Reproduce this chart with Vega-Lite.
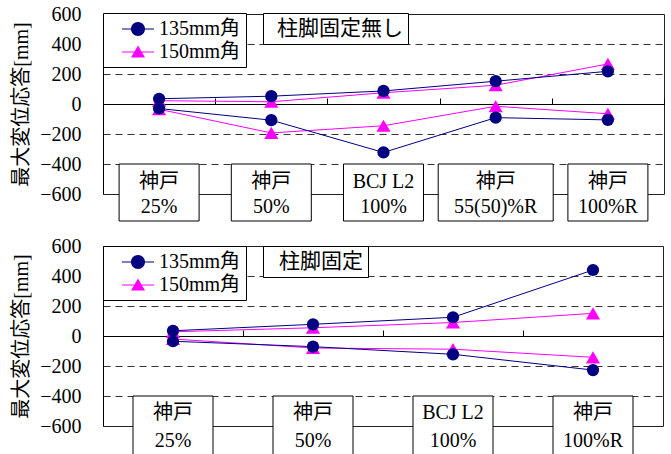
{
  "$schema": "https://vega.github.io/schema/vega-lite/v6.json",
  "padding": {"left": 11, "top": 3, "right": 5, "bottom": 0},
  "spacing": 52,
  "bounds": "flush",
  "config": {
    "font": "Liberation Serif, Noto Sans CJK JP",
    "view": {"stroke": "#222", "strokeWidth": 1},
    "axis": {"labelColor": "black", "titleColor": "black"},
    "legend": {"labelColor": "black"}
  },
  "datasets": {
    "top": [
      {"cond": "柱脚固定無し", "site": "神戸", "level": "25%", "series": "150mm角", "stat": "max", "v": 22},
      {"cond": "柱脚固定無し", "site": "神戸", "level": "50%", "series": "150mm角", "stat": "max", "v": 15},
      {"cond": "柱脚固定無し", "site": "BCJ L2", "level": "100%", "series": "150mm角", "stat": "max", "v": 75},
      {"cond": "柱脚固定無し", "site": "神戸", "level": "55(50)%R", "series": "150mm角", "stat": "max", "v": 125},
      {"cond": "柱脚固定無し", "site": "神戸", "level": "100%R", "series": "150mm角", "stat": "max", "v": 267},
      {"cond": "柱脚固定無し", "site": "神戸", "level": "25%", "series": "150mm角", "stat": "min", "v": -35},
      {"cond": "柱脚固定無し", "site": "神戸", "level": "50%", "series": "150mm角", "stat": "min", "v": -193},
      {"cond": "柱脚固定無し", "site": "BCJ L2", "level": "100%", "series": "150mm角", "stat": "min", "v": -145},
      {"cond": "柱脚固定無し", "site": "神戸", "level": "55(50)%R", "series": "150mm角", "stat": "min", "v": -15},
      {"cond": "柱脚固定無し", "site": "神戸", "level": "100%R", "series": "150mm角", "stat": "min", "v": -65},
      {"cond": "柱脚固定無し", "site": "神戸", "level": "25%", "series": "135mm角", "stat": "max", "v": 35},
      {"cond": "柱脚固定無し", "site": "神戸", "level": "50%", "series": "135mm角", "stat": "max", "v": 52},
      {"cond": "柱脚固定無し", "site": "BCJ L2", "level": "100%", "series": "135mm角", "stat": "max", "v": 87},
      {"cond": "柱脚固定無し", "site": "神戸", "level": "55(50)%R", "series": "135mm角", "stat": "max", "v": 152},
      {"cond": "柱脚固定無し", "site": "神戸", "level": "100%R", "series": "135mm角", "stat": "max", "v": 218},
      {"cond": "柱脚固定無し", "site": "神戸", "level": "25%", "series": "135mm角", "stat": "min", "v": -30},
      {"cond": "柱脚固定無し", "site": "神戸", "level": "50%", "series": "135mm角", "stat": "min", "v": -108},
      {"cond": "柱脚固定無し", "site": "BCJ L2", "level": "100%", "series": "135mm角", "stat": "min", "v": -323},
      {"cond": "柱脚固定無し", "site": "神戸", "level": "55(50)%R", "series": "135mm角", "stat": "min", "v": -91},
      {"cond": "柱脚固定無し", "site": "神戸", "level": "100%R", "series": "135mm角", "stat": "min", "v": -106}
    ],
    "bottom": [
      {"cond": "柱脚固定", "site": "神戸", "level": "25%", "series": "150mm角", "stat": "max", "v": 28},
      {"cond": "柱脚固定", "site": "神戸", "level": "50%", "series": "150mm角", "stat": "max", "v": 55},
      {"cond": "柱脚固定", "site": "BCJ L2", "level": "100%", "series": "150mm角", "stat": "max", "v": 90},
      {"cond": "柱脚固定", "site": "神戸", "level": "100%R", "series": "150mm角", "stat": "max", "v": 151},
      {"cond": "柱脚固定", "site": "神戸", "level": "25%", "series": "150mm角", "stat": "min", "v": -20},
      {"cond": "柱脚固定", "site": "神戸", "level": "50%", "series": "150mm角", "stat": "min", "v": -80},
      {"cond": "柱脚固定", "site": "BCJ L2", "level": "100%", "series": "150mm角", "stat": "min", "v": -88},
      {"cond": "柱脚固定", "site": "神戸", "level": "100%R", "series": "150mm角", "stat": "min", "v": -142},
      {"cond": "柱脚固定", "site": "神戸", "level": "25%", "series": "135mm角", "stat": "max", "v": 35},
      {"cond": "柱脚固定", "site": "神戸", "level": "50%", "series": "135mm角", "stat": "max", "v": 78},
      {"cond": "柱脚固定", "site": "BCJ L2", "level": "100%", "series": "135mm角", "stat": "max", "v": 125},
      {"cond": "柱脚固定", "site": "神戸", "level": "100%R", "series": "135mm角", "stat": "max", "v": 440},
      {"cond": "柱脚固定", "site": "神戸", "level": "25%", "series": "135mm角", "stat": "min", "v": -35},
      {"cond": "柱脚固定", "site": "神戸", "level": "50%", "series": "135mm角", "stat": "min", "v": -71},
      {"cond": "柱脚固定", "site": "BCJ L2", "level": "100%", "series": "135mm角", "stat": "min", "v": -122},
      {"cond": "柱脚固定", "site": "神戸", "level": "100%R", "series": "135mm角", "stat": "min", "v": -227}
    ]
  },
  "vconcat": [
    {
      "width": 561,
      "height": 180,
      "data": {"name": "top"},
      "encoding": {
        "x": {
          "field": "level", "type": "nominal", "sort": null,
          "scale": {"type": "band", "paddingInner": 0, "paddingOuter": 0},
          "axis": {"title": null, "labels": false, "domainColor": "black", "tickColor": "black", "tickSize": -6, "tickBand": "extent", "offset": -90, "grid": false}
        },
        "y": {
          "field": "v", "type": "quantitative",
          "scale": {"domain": [-600, 600], "nice": false},
          "axis": {
            "values": [-600, -400, -200, 0, 200, 400, 600],
            "title": "最大変位応答[mm]", "titleFontSize": 20, "titleFontWeight": "normal", "titlePadding": 8,
            "labelFontSize": 20, "ticks": false, "tickSize": 0, "labelPadding": 22, "domainColor": "black",
            "grid": true, "gridColor": "#333", "gridDash": [7, 5],
            "gridOpacity": {"condition": {"test": "abs(datum.value) === 600 || datum.value === 0", "value": 0}, "value": 1}
          }
        }
      },
      "layer": [
        {
          "mark": {"type": "line", "strokeWidth": 1},
          "encoding": {
            "color": {"field": "series", "type": "nominal", "scale": {"domain": ["135mm角", "150mm角"], "range": ["#000080", "#ff00ff"]}, "legend": null},
            "detail": {"field": "stat"},
            "order": {"value": null}
          }
        },
        {
          "mark": {"type": "point", "filled": true, "opacity": 1},
          "encoding": {
            "color": {"field": "series", "type": "nominal", "scale": {"domain": ["135mm角", "150mm角"], "range": ["#000080", "#ff00ff"]}, "legend": null},
            "shape": {"field": "series", "type": "nominal", "scale": {"domain": ["135mm角", "150mm角"], "range": ["circle", "triangle-up"]}, "legend": null},
            "size": {"field": "series", "type": "nominal", "scale": {"domain": ["135mm角", "150mm角"], "range": [150, 200]}, "legend": null}
          }
        },
        {
          "mark": {"type": "point", "filled": true, "opacity": 0},
          "encoding": {
            "color": {
              "field": "series", "type": "nominal",
              "scale": {"domain": ["135mm角", "150mm角"], "range": ["#000080", "#ff00ff"]},
              "legend": {
                "orient": "none", "legendX": 0, "legendY": -1, "title": null, "direction": "vertical",
                "strokeColor": "black", "fillColor": "white", "padding": 5, "rowPadding": 2,
                "symbolOffset": 19, "labelOffset": 10, "labelFontSize": 20, "symbolOpacity": 1,
                "labelExpr": "datum.label + '   '", "symbolSize": 400
              }
            },
            "shape": {
              "field": "series", "type": "nominal",
              "scale": {"domain": ["135mm角", "150mm角"], "range": [
                "M-1.6,-0.055L1.6,-0.055L1.6,0.055L-1.6,0.055ZM0.7,0A0.7,0.7,0,1,1,-0.7,0A0.7,0.7,0,1,1,0.7,0Z",
                "M-1.6,-0.055L1.6,-0.055L1.6,0.055L-1.6,0.055ZM0,-0.66L0.7,0.56L-0.7,0.56Z"
              ]},
              "legend": {
                "orient": "none", "legendX": 0, "legendY": -1, "title": null, "direction": "vertical",
                "strokeColor": "black", "fillColor": "white", "padding": 5, "rowPadding": 2,
                "symbolOffset": 19, "labelOffset": 10, "labelFontSize": 20, "symbolOpacity": 1,
                "labelExpr": "datum.label + '   '", "symbolSize": 400
              }
            }
          }
        },
        {
          "transform": [{"filter": "datum.series === '135mm角' && datum.stat === 'max' && length(datum.level) <= 5"}],
          "mark": {"type": "bar", "width": 80, "fill": "white", "stroke": "black", "strokeWidth": 1},
          "encoding": {
            "y": {"datum": -400}, "y2": {"datum": -780},
            "opacity": {
              "field": "cond", "type": "nominal", "scale": {"range": [1, 1]},
              "legend": {
                "orient": "none", "legendX": 160, "legendY": -1, "title": null,
                "strokeColor": "black", "fillColor": "white", "padding": 5,
                "symbolSize": 0, "symbolStrokeWidth": 0, "symbolFillColor": "transparent", "symbolStrokeColor": "transparent",
                "symbolOffset": 0, "labelOffset": -12,
                "labelFontSize": 21, "labelFont": "Liberation Serif, Noto Sans CJK JP", "labelExpr": "datum.label + '  '"
              }
            }
          }
        },
        {
          "transform": [{"filter": "datum.series === '135mm角' && datum.stat === 'max' && length(datum.level) > 5"}],
          "mark": {"type": "bar", "width": 115, "fill": "white", "stroke": "black", "strokeWidth": 1},
          "encoding": {"y": {"datum": -400}, "y2": {"datum": -780}}
        },
        {
          "transform": [{"filter": "datum.series === '135mm角' && datum.stat === 'max'"}],
          "mark": {"type": "text", "fontSize": 20, "baseline": "middle", "dy": -12, "color": "black"},
          "encoding": {"y": {"datum": -600}, "text": {"field": "site"}}
        },
        {
          "transform": [{"filter": "datum.series === '135mm角' && datum.stat === 'max'"}],
          "mark": {"type": "text", "fontSize": 20, "baseline": "middle", "dy": 13, "color": "black"},
          "encoding": {"y": {"datum": -600}, "text": {"field": "level"}}
        }
      ],
      "resolve": {
        "scale": {"color": "independent", "shape": "independent"},
        "legend": {"color": "independent", "shape": "independent"}
      }
    },
    {
      "width": 560,
      "height": 180,
      "data": {"name": "bottom"},
      "encoding": {
        "x": {
          "field": "level", "type": "nominal", "sort": null,
          "scale": {"type": "band", "paddingInner": 0, "paddingOuter": 0},
          "axis": {"title": null, "labels": false, "domainColor": "black", "tickColor": "black", "tickSize": -6, "tickBand": "extent", "offset": -90, "grid": false}
        },
        "y": {
          "field": "v", "type": "quantitative",
          "scale": {"domain": [-600, 600], "nice": false},
          "axis": {
            "values": [-600, -400, -200, 0, 200, 400, 600],
            "title": "最大変位応答[mm]", "titleFontSize": 20, "titleFontWeight": "normal", "titlePadding": 8,
            "labelFontSize": 20, "ticks": false, "tickSize": 0, "labelPadding": 22, "domainColor": "black",
            "grid": true, "gridColor": "#333", "gridDash": [7, 5],
            "gridOpacity": {"condition": {"test": "abs(datum.value) === 600 || datum.value === 0", "value": 0}, "value": 1}
          }
        }
      },
      "layer": [
        {
          "mark": {"type": "line", "strokeWidth": 1},
          "encoding": {
            "color": {"field": "series", "type": "nominal", "scale": {"domain": ["135mm角", "150mm角"], "range": ["#000080", "#ff00ff"]}, "legend": null},
            "detail": {"field": "stat"},
            "order": {"value": null}
          }
        },
        {
          "mark": {"type": "point", "filled": true, "opacity": 1},
          "encoding": {
            "color": {"field": "series", "type": "nominal", "scale": {"domain": ["135mm角", "150mm角"], "range": ["#000080", "#ff00ff"]}, "legend": null},
            "shape": {"field": "series", "type": "nominal", "scale": {"domain": ["135mm角", "150mm角"], "range": ["circle", "triangle-up"]}, "legend": null},
            "size": {"field": "series", "type": "nominal", "scale": {"domain": ["135mm角", "150mm角"], "range": [150, 200]}, "legend": null}
          }
        },
        {
          "mark": {"type": "point", "filled": true, "opacity": 0},
          "encoding": {
            "color": {
              "field": "series", "type": "nominal",
              "scale": {"domain": ["135mm角", "150mm角"], "range": ["#000080", "#ff00ff"]},
              "legend": {
                "orient": "none", "legendX": 0, "legendY": 0, "title": null, "direction": "vertical",
                "strokeColor": "black", "fillColor": "white", "padding": 5, "rowPadding": 2,
                "symbolOffset": 19, "labelOffset": 10, "labelFontSize": 20, "symbolOpacity": 1,
                "labelExpr": "datum.label + '   '", "symbolSize": 400
              }
            },
            "shape": {
              "field": "series", "type": "nominal",
              "scale": {"domain": ["135mm角", "150mm角"], "range": [
                "M-1.6,-0.055L1.6,-0.055L1.6,0.055L-1.6,0.055ZM0.7,0A0.7,0.7,0,1,1,-0.7,0A0.7,0.7,0,1,1,0.7,0Z",
                "M-1.6,-0.055L1.6,-0.055L1.6,0.055L-1.6,0.055ZM0,-0.66L0.7,0.56L-0.7,0.56Z"
              ]},
              "legend": {
                "orient": "none", "legendX": 0, "legendY": 0, "title": null, "direction": "vertical",
                "strokeColor": "black", "fillColor": "white", "padding": 5, "rowPadding": 2,
                "symbolOffset": 19, "labelOffset": 10, "labelFontSize": 20, "symbolOpacity": 1,
                "labelExpr": "datum.label + '   '", "symbolSize": 400
              }
            }
          }
        },
        {
          "transform": [{"filter": "datum.series === '135mm角' && datum.stat === 'max'"}],
          "mark": {"type": "bar", "width": 80, "fill": "white", "stroke": "black", "strokeWidth": 1},
          "encoding": {
            "y": {"datum": -400}, "y2": {"datum": -830},
            "opacity": {
              "field": "cond", "type": "nominal", "scale": {"range": [1, 1]},
              "legend": {
                "orient": "none", "legendX": 160, "legendY": 0, "title": null,
                "strokeColor": "black", "fillColor": "white", "padding": 5,
                "symbolSize": 0, "symbolStrokeWidth": 0, "symbolFillColor": "transparent", "symbolStrokeColor": "transparent",
                "symbolOffset": 0, "labelOffset": -10,
                "labelFontSize": 21, "labelFont": "Liberation Serif, Noto Sans CJK JP", "labelExpr": "datum.label + '   '"
              }
            }
          }
        },
        {
          "transform": [{"filter": "datum.series === '135mm角' && datum.stat === 'max'"}],
          "mark": {"type": "text", "fontSize": 20, "baseline": "middle", "dy": -13, "color": "black"},
          "encoding": {"y": {"datum": -600}, "text": {"field": "site"}}
        },
        {
          "transform": [{"filter": "datum.series === '135mm角' && datum.stat === 'max'"}],
          "mark": {"type": "text", "fontSize": 20, "baseline": "middle", "dy": 15, "color": "black"},
          "encoding": {"y": {"datum": -600}, "text": {"field": "level"}}
        }
      ],
      "resolve": {
        "scale": {"color": "independent", "shape": "independent"},
        "legend": {"color": "independent", "shape": "independent"}
      }
    }
  ],
  "resolve": {
    "scale": {"x": "independent", "y": "independent", "color": "independent", "opacity": "independent", "shape": "independent", "size": "independent"},
    "legend": {"color": "independent", "opacity": "independent", "shape": "independent", "size": "independent"}
  }
}
